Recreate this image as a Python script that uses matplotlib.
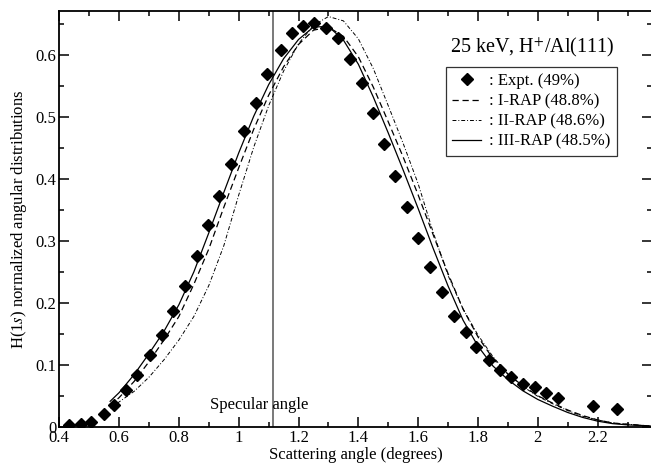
import matplotlib
matplotlib.use('Agg')
import matplotlib.pyplot as plt
from matplotlib.ticker import MultipleLocator, FormatStrFormatter

plt.rcParams['font.family'] = ['Liberation Serif', 'DejaVu Serif']
plt.rcParams['mathtext.fontset'] = 'stix'

# experimental points (angle in degrees, normalized H(1s) distribution)
expt_x = [0.433, 0.473, 0.505, 0.549, 0.583, 0.622, 0.660, 0.703, 0.742, 0.780,
          0.820, 0.860, 0.896, 0.934, 0.975, 1.019, 1.058, 1.095, 1.140, 1.178,
          1.214, 1.252, 1.292, 1.333, 1.372, 1.411, 1.448, 1.486, 1.524, 1.564,
          1.601, 1.640, 1.681, 1.720, 1.759, 1.794, 1.837, 1.872, 1.911, 1.949,
          1.991, 2.028, 2.066, 2.183, 2.264]
expt_y = [0.003, 0.004, 0.007, 0.020, 0.035, 0.059, 0.083, 0.116, 0.148, 0.187,
          0.227, 0.276, 0.325, 0.373, 0.424, 0.477, 0.522, 0.570, 0.608, 0.636,
          0.646, 0.652, 0.644, 0.627, 0.593, 0.555, 0.506, 0.456, 0.405, 0.354,
          0.304, 0.258, 0.218, 0.179, 0.153, 0.128, 0.108, 0.092, 0.080, 0.069,
          0.064, 0.054, 0.047, 0.033, 0.028]

theta = [0.57, 0.60, 0.65, 0.70, 0.75, 0.80, 0.85, 0.90, 0.95, 1.00,
         1.05, 1.10, 1.15, 1.20, 1.25, 1.30, 1.35, 1.40, 1.45, 1.50,
         1.55, 1.60, 1.65, 1.70, 1.75, 1.80, 1.85, 1.90, 1.95, 2.00,
         2.05, 2.10, 2.15, 2.20, 2.25, 2.30, 2.35, 2.38]
rap1 = [0.034, 0.047, 0.073, 0.105, 0.140, 0.178, 0.230, 0.287, 0.354, 0.418,
        0.480, 0.535, 0.581, 0.617, 0.640, 0.645, 0.630, 0.597, 0.548, 0.492,
        0.435, 0.374, 0.310, 0.247, 0.190, 0.145, 0.110, 0.085, 0.066, 0.050,
        0.038, 0.027, 0.018, 0.011, 0.006, 0.004, 0.002, 0.001]
rap2 = [0.030, 0.040, 0.057, 0.080, 0.108, 0.140, 0.178, 0.228, 0.292, 0.374,
        0.451, 0.518, 0.574, 0.618, 0.648, 0.662, 0.655, 0.626, 0.578, 0.518,
        0.457, 0.392, 0.314, 0.244, 0.190, 0.148, 0.113, 0.085, 0.065, 0.049,
        0.037, 0.026, 0.017, 0.011, 0.006, 0.004, 0.002, 0.001]
rap3 = [0.041, 0.055, 0.084, 0.118, 0.154, 0.197, 0.250, 0.313, 0.378, 0.442,
        0.501, 0.552, 0.594, 0.625, 0.645, 0.646, 0.624, 0.585, 0.532, 0.474,
        0.414, 0.352, 0.288, 0.227, 0.172, 0.130, 0.098, 0.076, 0.058, 0.044,
        0.033, 0.023, 0.015, 0.009, 0.005, 0.003, 0.002, 0.001]
specular = 1.116

fig = plt.figure(figsize=(6.51, 4.68), dpi=100)
ax = fig.add_axes([0.0911, 0.0882, 0.9105, 0.8884])

ax.axvline(specular, color='#555555', lw=1.1, zorder=1)
ax.plot(expt_x, expt_y, 'D', color='black', ms=6, ls='none',
        label=': Expt. (49%)')
ax.plot(theta, rap1, color='black', lw=0.9, ls=(0, (5, 3)),
        label=': I-RAP (48.8%)')
ax.plot(theta, rap2, color='black', lw=0.7, ls=(0, (4, 2, 1, 2)),
        label=': II-RAP (48.6%)')
ax.plot(theta, rap3, color='black', lw=0.9, label=': III-RAP (48.5%)')

ax.set_xlim(0.4, 2.382)
ax.set_ylim(0, 0.671)
ax.xaxis.set_major_locator(MultipleLocator(0.2))
ax.xaxis.set_minor_locator(MultipleLocator(0.1))
ax.yaxis.set_major_locator(MultipleLocator(0.1))
ax.yaxis.set_minor_locator(MultipleLocator(0.05))
ax.xaxis.set_major_formatter(FormatStrFormatter('%g'))
ax.yaxis.set_major_formatter(FormatStrFormatter('%g'))
ax.tick_params(which='both', direction='in', top=True, right=True,
               labelsize=12, width=1.1, pad=2)
ax.tick_params(which='major', length=7)
ax.tick_params(which='minor', length=3.5)
for sp in ax.spines.values():
    sp.set_linewidth(1.3)

ax.set_xlabel('Scattering angle (degrees)', fontsize=12, labelpad=1)
ax.set_ylabel('H(1$s$) normalized angular distributions', fontsize=12,
              labelpad=5)

ax.text(0.904, 0.035, 'Specular angle', fontsize=12, va='center', ha='left')
ax.text(1.707, 0.613, '25 keV, H$^{+}$/Al(111)', fontsize=14.5, va='center',
        ha='left')

leg = ax.legend(loc='upper left', bbox_to_anchor=(0.652, 0.866), fontsize=12,
                frameon=True, fancybox=False, handlelength=1.7,
                handletextpad=0.5, borderpad=0.4, labelspacing=0.25,
                borderaxespad=0)
leg.get_frame().set_edgecolor('black')
leg.get_frame().set_linewidth(0.9)

fig.savefig('out.png', dpi=100)
